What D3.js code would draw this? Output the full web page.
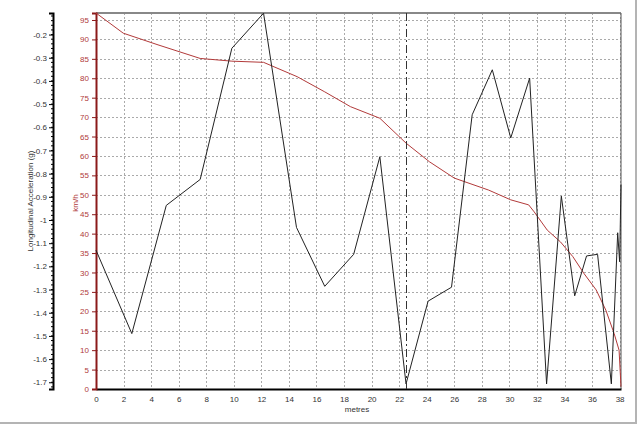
<!DOCTYPE html>
<html>
<head>
<meta charset="utf-8">
<script src="https://cdn.jsdelivr.net/npm/d3@7"></script>
<style>
  body { margin: 0; background: #fff; }
  text { font-family: "Liberation Sans", Arial, sans-serif; }
</style>
</head>
<body>
<script>
'use strict';

// distance (m) / speed (km/h)
let speedDist = [0, 1.98, 4.5, 7.56, 9.86, 12.16, 14.6, 16.6, 18.46, 20.6, 22.5, 24.2, 26, 28.5, 30.1, 31.4, 31.8, 32.75, 33.7, 34.6, 35.4, 36.3, 37.0, 37.6, 37.96, 38.1];
let speedVals = [96.8, 91.6, 88.6, 85.1, 84.4, 84.1, 80.4, 76.5, 72.7, 69.7, 63.3, 58.5, 54.3, 51.2, 48.7, 47.4, 45.6, 40.9, 37.9, 34.1, 29.8, 25.5, 20.3, 14.3, 10, 0.6];

// distance (m) / longitudinal acceleration (g)
let accDist = [0, 2.6, 5.1, 7.56, 9.86, 12.16, 14.55, 16.6, 18.7, 20.6, 22.5, 24.1, 25.8, 27.3, 28.76, 30.1, 31.47, 32.7, 33.77, 34.74, 35.6, 36.4, 37.4, 37.86, 38.0, 38.1];
let accVals = [-1.13, -1.49, -0.937, -0.825, -0.259, -0.108, -1.032, -1.286, -1.148, -0.727, -1.707, -1.35, -1.29, -0.546, -0.352, -0.646, -0.388, -1.707, -0.897, -1.327, -1.155, -1.148, -1.707, -1.055, -1.18, -0.847];

let xTicks = d3.range(0, 39, 2);
let kmhTicks = d3.range(0, 100, 5);
let gTicks = [-0.2, -0.3, -0.4, -0.5, -0.6, -0.7, -0.8, -0.9, -1, -1.1, -1.2, -1.3, -1.4, -1.5, -1.6, -1.7];
let cursorAt = 22.5;

let plot = { left: 96, right: 621, top: 13, bottom: 389 };
let svgContainer = '';

window.onload = function() {
    svgContainer = d3.select('body')
        .append('svg')
        .attr('width', 640)
        .attr('height', 426);

    let map = makeScales();
    drawFrame();
    drawGrid(map);
    drawAxes(map);
    plotData(map);
    makeLabels(svgContainer);
}

function makeScales() {
    let xScale = d3.scaleLinear()
        .domain([0, 38.1])
        .range([plot.left, plot.right]);
    let kmhScale = d3.scaleLinear()
        .domain([0, 96.8])
        .range([plot.bottom, plot.top]);
    let gScale = d3.scaleLinear()
        .domain([-1.729, -0.107])
        .range([plot.bottom, plot.top]);
    return { x: xScale, kmh: kmhScale, g: gScale };
}

function drawFrame() {
    // outer window edge
    svgContainer.append('line')
        .attr('x1', 636).attr('x2', 636).attr('y1', 0).attr('y2', 423)
        .attr('stroke', '#b4b4b4').attr('stroke-width', 2);
    svgContainer.append('line')
        .attr('x1', 0).attr('x2', 637).attr('y1', 423).attr('y2', 423)
        .attr('stroke', '#b4b4b4').attr('stroke-width', 2);
}

function drawGrid(map) {
    let grid = svgContainer.append('g')
        .attr('stroke', '#aaa')
        .attr('stroke-dasharray', '2,2')
        .attr('stroke-width', 1);

    grid.selectAll('.vgrid')
        .data(xTicks.slice(1))
        .enter()
        .append('line')
        .attr('x1', (d) => Math.round(map.x(d)) + 0.5)
        .attr('x2', (d) => Math.round(map.x(d)) + 0.5)
        .attr('y1', plot.top)
        .attr('y2', plot.bottom);

    grid.selectAll('.hgrid')
        .data(kmhTicks.slice(1))
        .enter()
        .append('line')
        .attr('x1', plot.left)
        .attr('x2', plot.right)
        .attr('y1', (d) => Math.round(map.kmh(d)) + 0.5)
        .attr('y2', (d) => Math.round(map.kmh(d)) + 0.5);

    // top and right border of the plot
    svgContainer.append('line')
        .attr('x1', plot.left).attr('x2', plot.right)
        .attr('y1', plot.top).attr('y2', plot.top)
        .attr('stroke', '#888').attr('stroke-width', 2);
    svgContainer.append('line')
        .attr('x1', plot.right).attr('x2', plot.right)
        .attr('y1', plot.top).attr('y2', plot.bottom)
        .attr('stroke', '#555').attr('stroke-width', 1);
}

function drawAxes(map) {
    // distance axis
    let xAxis = d3.axisBottom(map.x)
        .tickValues(xTicks)
        .tickSize(0)
        .tickPadding(7);
    let gx = svgContainer.append('g')
        .attr('transform', 'translate(0,' + plot.bottom + ')')
        .call(xAxis);
    gx.select('.domain').attr('stroke', '#000').attr('stroke-width', 2);
    gx.selectAll('text').style('font-size', '8px').attr('fill', '#333');

    // speed axis
    let kmhAxis = d3.axisLeft(map.kmh)
        .tickValues(kmhTicks)
        .tickSize(4)
        .tickPadding(3);
    let gk = svgContainer.append('g')
        .attr('transform', 'translate(' + plot.left + ',0)')
        .call(kmhAxis);
    gk.select('.domain').attr('stroke', '#8b1a1a').attr('stroke-width', 2);
    gk.selectAll('line').attr('stroke', '#8b1a1a');
    gk.selectAll('text').style('font-size', '8px').attr('fill', '#b03a3a');

    // acceleration axis
    let gAxis = d3.axisLeft(map.g)
        .tickValues(gTicks)
        .tickSize(4)
        .tickPadding(2)
        .tickFormat((d) => d3.format('')(+d.toFixed(1)).replace('\u2212', '-'));
    let gg = svgContainer.append('g')
        .attr('transform', 'translate(53,0)')
        .call(gAxis);
    gg.select('.domain').attr('stroke', '#000').attr('stroke-width', 2);
    gg.selectAll('text').style('font-size', '8px').attr('fill', '#333');

    // minor ticks
    let minor = d3.range(-1.72, -0.1, 0.02);
    gg.selectAll('.minor')
        .data(minor)
        .enter()
        .append('line')
        .attr('x1', -2).attr('x2', 0)
        .attr('y1', (d) => map.g(d)).attr('y2', (d) => map.g(d))
        .attr('stroke', '#000');
}

function plotData(map) {
    let accPoints = accDist.map((d, i) => [d, accVals[i]]);
    let speedPoints = speedDist.map((d, i) => [d, speedVals[i]]);

    let accLine = d3.line()
        .x((d) => map.x(d[0]))
        .y((d) => map.g(d[1]));
    let speedLine = d3.line()
        .x((d) => map.x(d[0]))
        .y((d) => map.kmh(d[1]));

    svgContainer.append('path')
        .datum(speedPoints)
        .attr('d', speedLine)
        .attr('fill', 'none')
        .attr('stroke', '#b23a3a')
        .attr('stroke-width', 1);

    svgContainer.append('path')
        .datum(accPoints)
        .attr('d', accLine)
        .attr('fill', 'none')
        .attr('stroke', '#222')
        .attr('stroke-width', 1);

    // cursor
    let cx = Math.round(map.x(cursorAt)) + 0.5;
    svgContainer.append('line')
        .attr('x1', cx).attr('x2', cx)
        .attr('y1', plot.top).attr('y2', plot.bottom)
        .attr('stroke', '#333')
        .attr('stroke-dasharray', '8,3,2,3');
}

function makeLabels(svg) {
    svg.append('text')
        .attr('x', 357)
        .attr('y', 412)
        .attr('text-anchor', 'middle')
        .style('font-size', '8px')
        .attr('fill', '#333')
        .text('metres');

    svg.append('text')
        .attr('transform', 'translate(33, 201)rotate(-90)')
        .attr('text-anchor', 'middle')
        .style('font-size', '8px')
        .attr('fill', '#333')
        .text('Longitudinal Acceleration (g)');

    svg.append('text')
        .attr('transform', 'translate(78, 203)rotate(-90)')
        .attr('text-anchor', 'middle')
        .style('font-size', '8px')
        .attr('fill', '#b03a3a')
        .text('km/h');
}
</script>
</body>
</html>
